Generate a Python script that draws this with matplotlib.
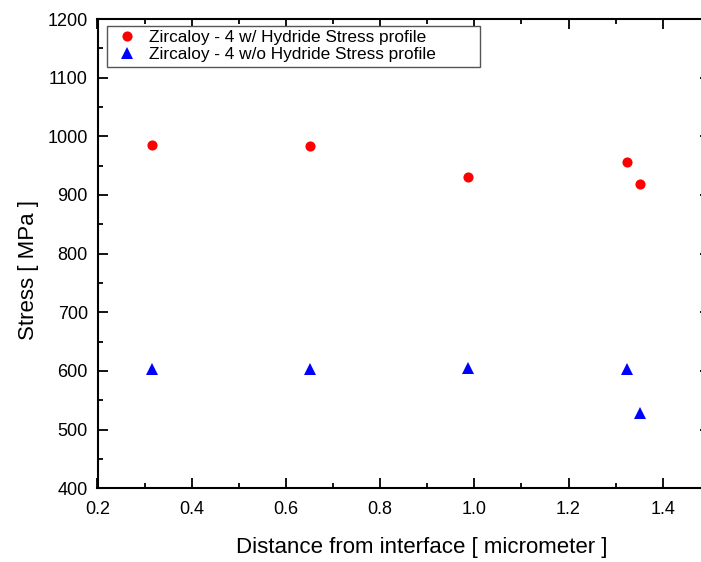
import matplotlib
matplotlib.use("Agg")
import matplotlib.pyplot as plt
from matplotlib.ticker import MultipleLocator

# Data
distance = [0.316, 0.652, 0.987, 1.325, 1.352]
stress_with_hydride = [986, 983, 931, 957, 918]
stress_without_hydride = [603, 603, 605, 603, 528]
label_with = "Zircaloy - 4 w/ Hydride Stress profile"
label_without = "Zircaloy - 4 w/o Hydride Stress profile"
xlabel = "Distance from interface [ micrometer ]"
ylabel = "Stress [ MPa ]"

plt.rcParams['font.family'] = ['Liberation Sans', 'DejaVu Sans']

W, H = 701, 562
fig = plt.figure(figsize=(W / 100, H / 100), dpi=100)
ax_l, ax_r, ax_t, ax_b = 97.5, 709.8, 19.0, 488.3
ax = fig.add_axes([ax_l / W, (H - ax_b) / H, (ax_r - ax_l) / W, (ax_b - ax_t) / H])

ax.plot(distance, stress_with_hydride, linestyle='none', marker='o',
        markersize=7.3, color='#ff0000', markeredgewidth=0, label=label_with)
ax.plot(distance, stress_without_hydride, linestyle='none', marker='^',
        markersize=8.3, color='#0000ff', markeredgewidth=0, label=label_without)

ax.set_xlim(0.2, 1.5)
ax.set_ylim(400, 1200)
ax.xaxis.set_major_locator(MultipleLocator(0.2))
ax.xaxis.set_minor_locator(MultipleLocator(0.1))
ax.yaxis.set_major_locator(MultipleLocator(100))
ax.yaxis.set_minor_locator(MultipleLocator(50))
ax.xaxis.set_major_formatter(matplotlib.ticker.FormatStrFormatter('%.1f'))

for s in ax.spines.values():
    s.set_linewidth(1.5)
    s.set_color('black')

ax.tick_params(which='both', direction='in', top=True, right=True, width=1.3, colors='black')
ax.tick_params(which='major', length=7.2)
ax.tick_params(which='minor', length=3.6)
ax.tick_params(axis='both', which='major', labelsize=13)
ax.tick_params(axis='x', pad=9)
ax.tick_params(axis='y', pad=7)

ax.set_xlabel(xlabel, fontsize=16)
ax.set_ylabel(ylabel, fontsize=16)
aw, ah = ax_r - ax_l, ax_b - ax_t
ax.xaxis.set_label_coords((422 - ax_l) / aw, (ax_b - 537) / ah)
ax.yaxis.set_label_coords((39 - ax_l) / aw, (ax_b - 270) / ah)

# Legend box 107..480 x, 26..63 y (pixels)
lx0, lx1, ly0, ly1 = 107, 480, 26, 63
leg = ax.legend(loc='upper left', mode='expand',
                bbox_to_anchor=((lx0 - ax_l) / aw, (ax_b - ly1) / ah,
                                (lx1 - lx0) / aw, (ly1 - ly0) / ah),
                borderaxespad=0, fontsize=12.4, frameon=True, fancybox=False,
                borderpad=0.25, labelspacing=0.11, handlelength=1.88,
                handletextpad=0.31, markerscale=1.0)
fr = leg.get_frame()
fr.set_edgecolor('#555555')
fr.set_linewidth(1.0)
fr.set_facecolor('white')
fr.set_alpha(1)

fig.savefig('out.png', dpi=100)
